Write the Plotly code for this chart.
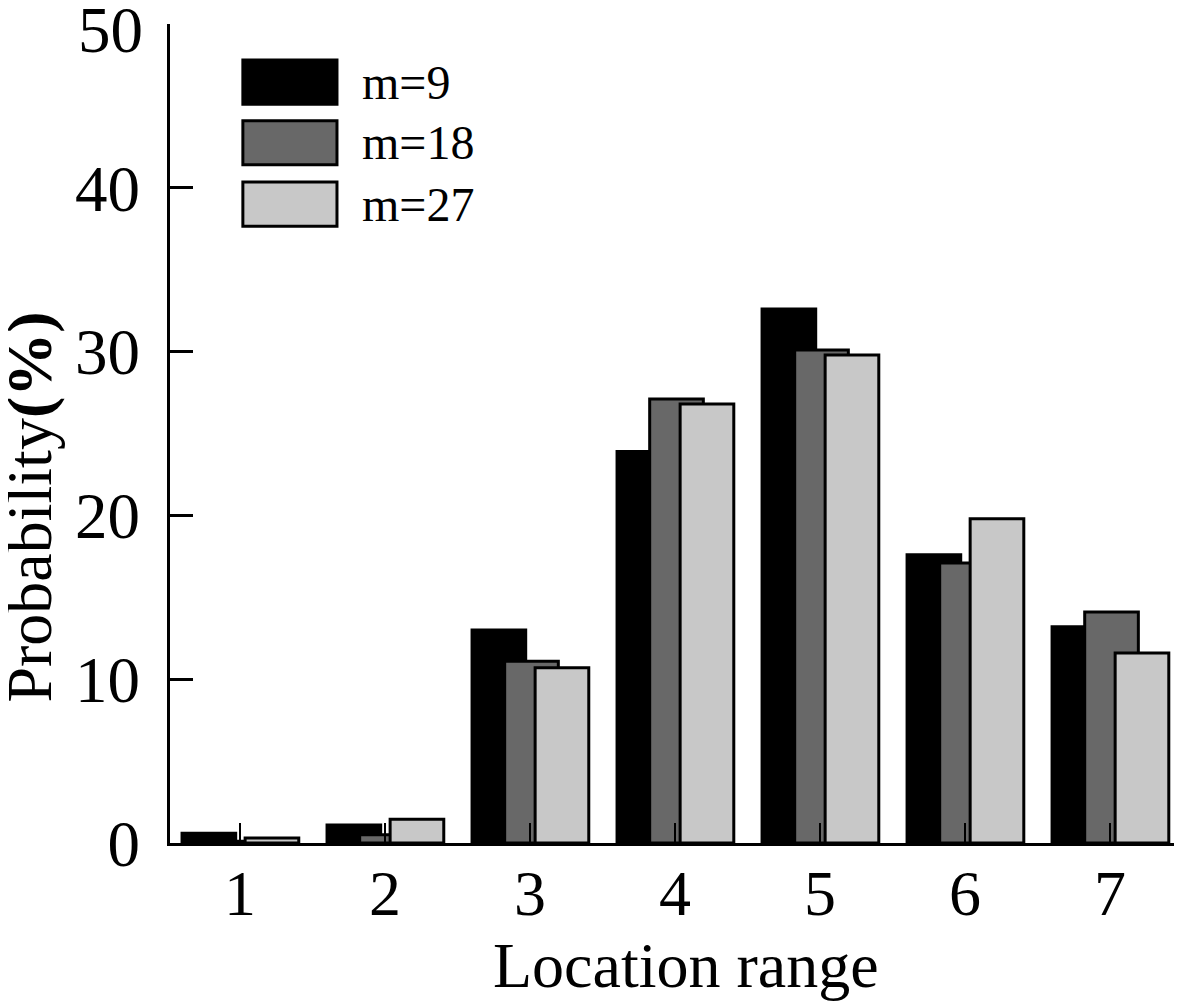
import plotly.graph_objects as go

# location range categories and probability (%) per window size m
ranges = [1, 2, 3, 4, 5, 6, 7]
m9 = [0.6, 1.1, 13.0, 23.9, 32.6, 17.6, 13.2]
m18 = [0.1, 0.5, 11.1, 27.1, 30.1, 17.1, 14.1]
m27 = [0.3, 1.45, 10.7, 26.8, 29.8, 19.8, 11.6]

yticks = [0, 10, 20, 30, 40, 50]
names = ['m=9', 'm=18', 'm=27']
colors = ['#000000', '#686868', '#c8c8c8']
offsets = [-0.40, -0.175, 0.035]

fig = go.Figure()
for vals, name, col, off in zip([m9, m18, m27], names, colors, offsets):
    fig.add_trace(go.Bar(
        x=ranges, y=vals, name=name,
        marker_color=col,
        marker_line_color='black',
        marker_line_width=3,
        width=0.37, offset=off,
        showlegend=False,
    ))

font = 'Liberation Serif, Times New Roman, serif'

# page body has an 8px margin, so the figure is drawn 8px smaller and shifted
fig.update_layout(
    width=1174, height=994,
    margin=dict(l=162, r=0, t=16, b=159),
    plot_bgcolor='white', paper_bgcolor='white',
    barmode='overlay',
    font=dict(family=font, color='black', size=60),
    xaxis=dict(
        range=[0.517, 7.496],
        tickvals=ranges,
        ticks='inside', ticklen=20, tickwidth=2, tickcolor='black',
        showline=True, linecolor='black', linewidth=3,
        showgrid=False, zeroline=False,
        tickfont=dict(size=64),
        ticklabelstandoff=-8,
        automargin=False,
    ),
    yaxis=dict(
        range=[0, 50],
        tickvals=yticks,
        # top label is drawn as an annotation a bit lower so it is not clipped
        ticktext=[str(v) for v in yticks[:-1]] + [''],
        ticks='inside', ticklen=23, tickwidth=3, tickcolor='black',
        showline=True, linecolor='black', linewidth=3,
        showgrid=False, zeroline=False,
        tickfont=dict(size=65),
        ticklabelstandoff=14,
        automargin=False,
    ),
)

fig.add_annotation(
    text=str(yticks[-1]), xref='paper', yref='y', x=0, y=yticks[-1],
    xanchor='right', yanchor='middle', xshift=-25, yshift=-6,
    showarrow=False, font=dict(size=65),
)

# axis titles
fig.add_annotation(
    text='Location range',
    xref='paper', yref='paper', x=0.51, y=-0.149,
    xanchor='center', yanchor='middle', showarrow=False,
    font=dict(size=64),
)
fig.add_annotation(
    text='Probability<b>(%)</b>', textangle=-90,
    xref='paper', yref='paper', x=-0.139, y=0.41,
    xanchor='center', yanchor='middle', showarrow=False,
    font=dict(size=64),
)

# legend drawn with big swatches
leg_y = [0.929, 0.855, 0.780]
for name, col, yy in zip(names, colors, leg_y):
    fig.add_shape(type='rect', xref='paper', yref='paper',
                  x0=0.072, x1=0.165, y0=yy - 0.027, y1=yy + 0.027,
                  fillcolor=col, line=dict(color='black', width=3))
    fig.add_annotation(text=name, xref='paper', yref='paper',
                       x=0.188, y=yy, xanchor='left', yanchor='middle',
                       showarrow=False, font=dict(size=48))

fig.write_html('out.html')
